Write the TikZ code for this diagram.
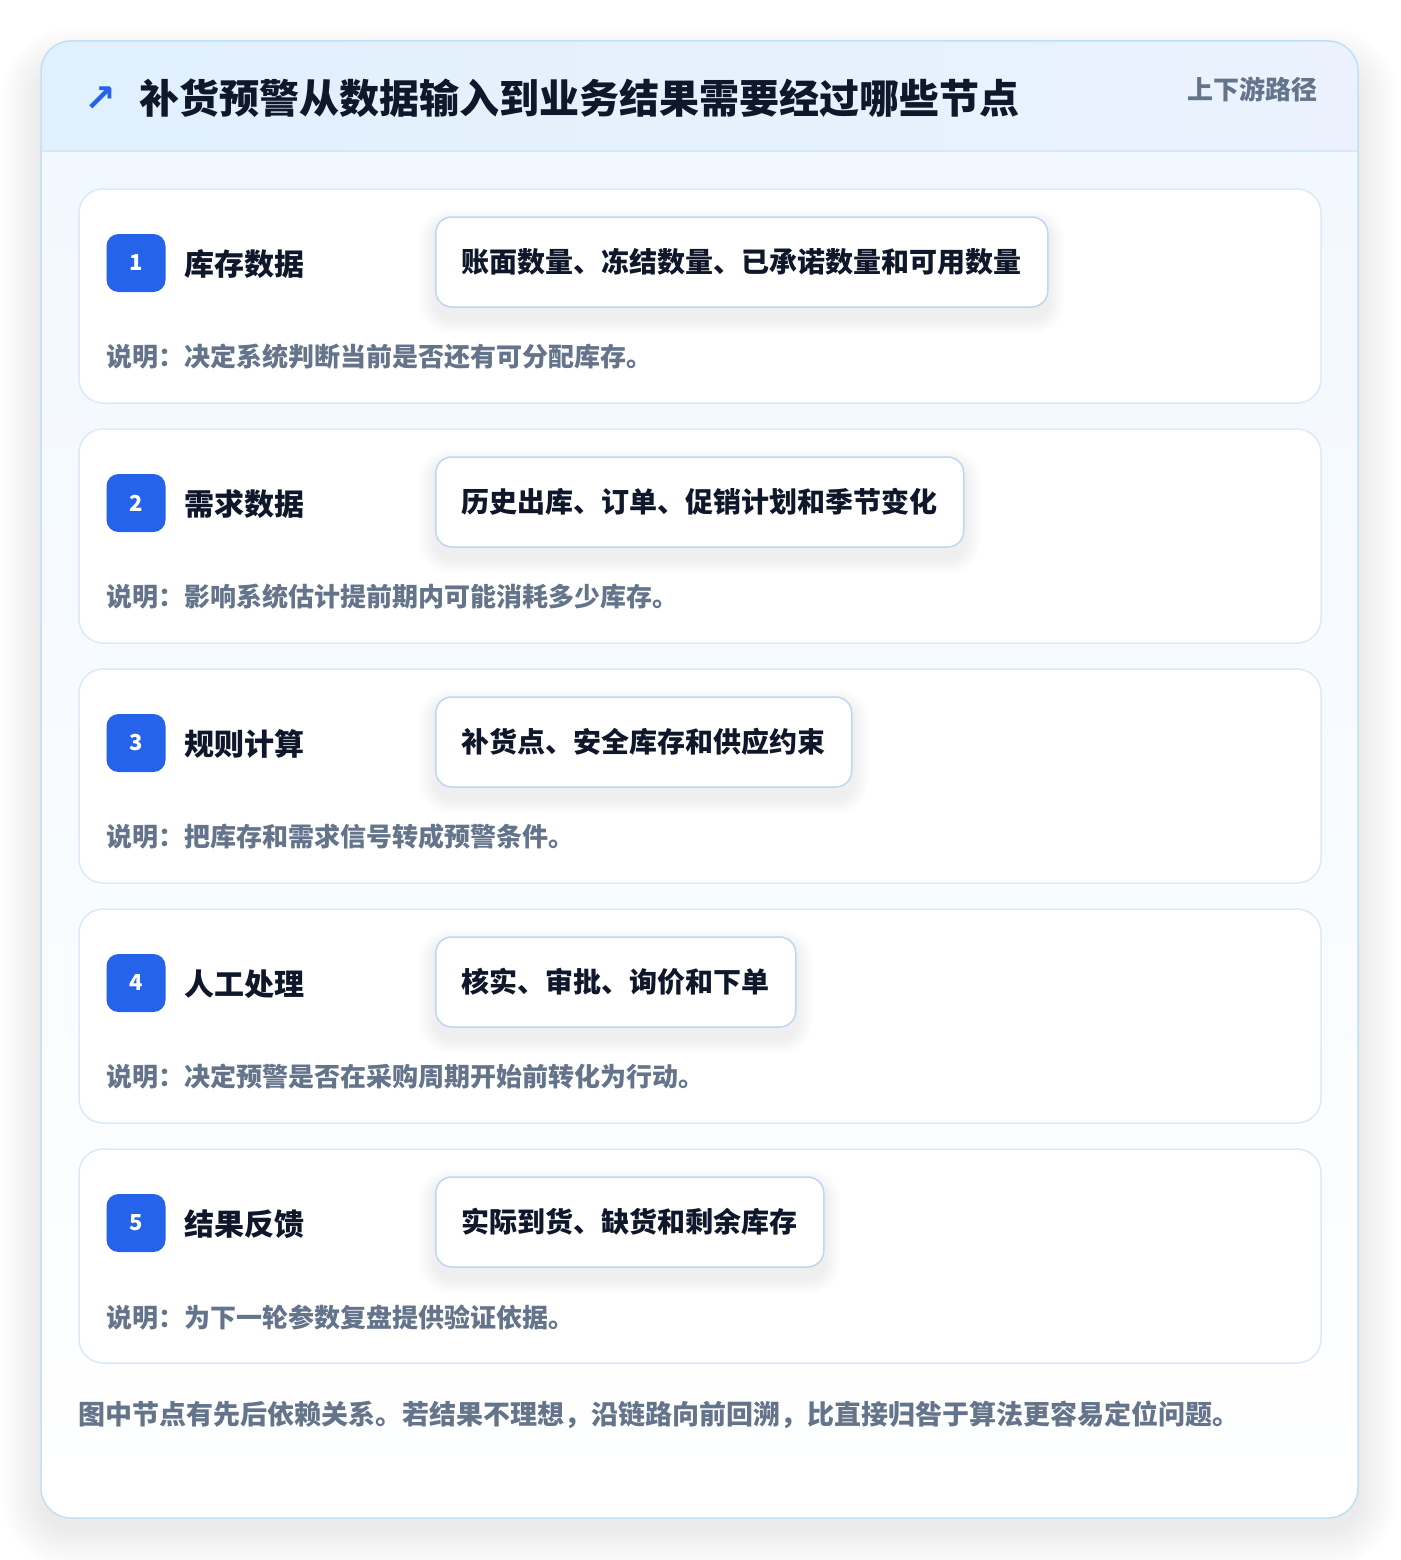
\documentclass[tikz,border=0pt]{standalone}
\usepackage{fontspec}
\setmainfont{Noto Sans CJK SC}
\newfontfamily\symfont{DejaVu Sans}
\definecolor{frameEdge}{HTML}{C0E0F6}
\definecolor{hdrL}{HTML}{E0F0FD}
\definecolor{hdrR}{HTML}{EBF2FE}
\definecolor{hdrLine}{HTML}{D5E7F8}
\definecolor{bodyTop}{HTML}{F2F8FF}
\definecolor{cardEdge}{HTML}{DAEAFA}
\definecolor{badgeBlue}{HTML}{2563EB}
\definecolor{titleInk}{HTML}{0F172A}
\definecolor{mutedInk}{HTML}{64748B}
\definecolor{pillEdge}{HTML}{BDD6F4}
\definecolor{shadowInk}{HTML}{334155}
\tikzset{
  stepcard/.style={draw=cardEdge, line width=1.5pt, fill=white, rounded corners=24pt,
    minimum width=1242pt, minimum height=214pt, inner sep=0pt},
  badge/.style={fill=badgeBlue, rounded corners=12pt, minimum width=59pt, minimum height=58pt,
    inner sep=0pt, text=white, font=\bfseries\fontsize{22}{22}\selectfont},
  steplabel/.style={anchor=west, inner sep=0pt, text=titleInk, font=\bfseries\fontsize{30}{30}\selectfont},
  pill/.style={anchor=west, draw=pillEdge, line width=1.5pt, fill=white, rounded corners=16pt,
    inner xsep=26pt, inner ysep=0pt, minimum height=90pt, text=titleInk,
    font=\bfseries\fontsize{28}{28}\selectfont},
  desc/.style={anchor=west, inner sep=0pt, text=mutedInk, font=\bfseries\fontsize{26}{26}\selectfont},
}
\begin{document}
\begin{tikzpicture}[x=1pt,y=-1pt]
\useasboundingbox (0,0) rectangle (1400,1560);
\fill[white] (0,0) rectangle (1400,1560);
% frame shadow (soft, stacked)
\foreach \s in {2,4,...,40}{
  \fill[shadowInk, opacity=0.0045, rounded corners=30pt+\s pt]
    (41-\s,41-\s+26) rectangle (1358+\s,1518+\s+10);
}
\begin{scope}
  \clip[rounded corners=30pt] (41,41) rectangle (1358,1518);
  \shade[left color=hdrL, right color=hdrR] (41,41) rectangle (1358,151);
  \shade[top color=bodyTop, bottom color=white] (41,151) rectangle (1358,1518);
  \draw[hdrLine, line width=1.5pt] (41,151) -- (1358,151);
\end{scope}
\draw[frameEdge, line width=1.5pt, rounded corners=30pt] (41,41) rectangle (1358,1518);
% header
\node[anchor=west, inner sep=0pt, text=badgeBlue, font=\symfont\bfseries\fontsize{38}{38}\selectfont] (arrow) at (84,99) {↗};
\node[anchor=west, inner sep=0pt, text=titleInk, font=\bfseries\fontsize{40}{40}\selectfont] (title) at (139,98) {补货预警从数据输入到业务结果需要经过哪些节点};
\node[anchor=east, inner sep=0pt, text=mutedInk, font=\bfseries\fontsize{26}{26}\selectfont] (tag) at (1318,89) {上下游路径};
% steps
\foreach \i/\lab/\pilltext/\desctext [count=\k from 0] in {
  1/库存数据/账面数量、冻结数量、已承诺数量和可用数量/说明：决定系统判断当前是否还有可分配库存。,
  2/需求数据/历史出库、订单、促销计划和季节变化/说明：影响系统估计提前期内可能消耗多少库存。,
  3/规则计算/补货点、安全库存和供应约束/说明：把库存和需求信号转成预警条件。,
  4/人工处理/核实、审批、询价和下单/说明：决定预警是否在采购周期开始前转化为行动。,
  5/结果反馈/实际到货、缺货和剩余库存/说明：为下一轮参数复盘提供验证依据。}{
  \pgfmathsetmacro{\top}{189+240*\k}
  \node[stepcard] (card\i) at (700,\top+107) {};
  \node[badge] (badge\i) at (136,\top+74) {\i};
  \node[steplabel] (label\i) at (184,\top+75) {\lab};
  \node[pill, opacity=0, text opacity=0, draw opacity=0] (pillbase\i) at (435,\top+73) {\pilltext};
  \foreach \s in {2,4,...,16}{
    \fill[shadowInk, opacity=0.007, rounded corners=16pt+\s pt]
      ([xshift=-\s pt, yshift=\s pt-8pt]pillbase\i.north west) rectangle ([xshift=\s pt, yshift=-\s pt-10pt]pillbase\i.south east);
  }
  \node[pill] (pill\i) at (435,\top+73) {\pilltext};
  \node[desc] (desc\i) at (106,\top+168) {\desctext};
}
% footer
\node[anchor=west, inner sep=0pt, text=mutedInk, font=\bfseries\fontsize{27}{27}\selectfont] (note) at (78,1415) {图中节点有先后依赖关系。若结果不理想，沿链路向前回溯，比直接归咎于算法更容易定位问题。};
\end{tikzpicture}
\end{document}
